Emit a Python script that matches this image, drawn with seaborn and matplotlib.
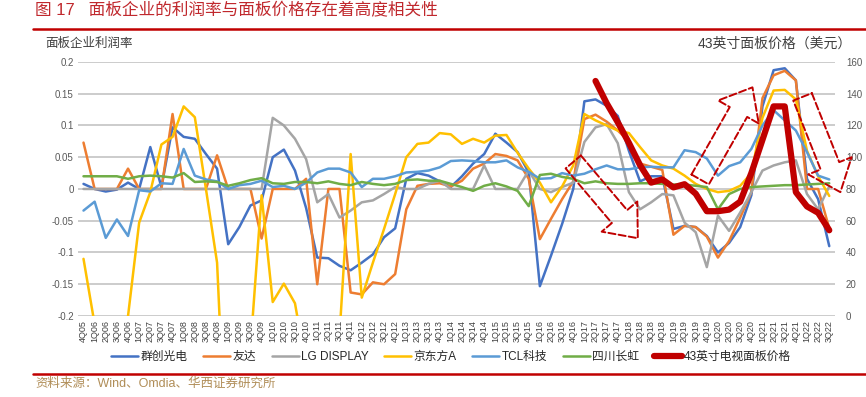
import numpy as np
import pandas as pd
import seaborn as sns
import matplotlib.pyplot as plt
from matplotlib.lines import Line2D

quarters = ['4Q05',
            '1Q06', '2Q06', '3Q06', '4Q06', '1Q07', '2Q07', '3Q07', '4Q07',
            '1Q08', '2Q08', '3Q08', '4Q08', '1Q09', '2Q09', '3Q09', '4Q09',
            '1Q10', '2Q10', '3Q10', '4Q10', '1Q11', '2Q11', '3Q11', '4Q11',
            '1Q12', '2Q12', '3Q12', '4Q12', '1Q13', '2Q13', '3Q13', '4Q13',
            '1Q14', '2Q14', '3Q14', '4Q14', '1Q15', '2Q15', '3Q15', '4Q15',
            '1Q16', '2Q16', '3Q16', '4Q16', '1Q17', '2Q17', '3Q17', '4Q17',
            '1Q18', '2Q18', '3Q18', '4Q18', '1Q19', '2Q19', '3Q19', '4Q19',
            '1Q20', '2Q20', '3Q20', '4Q20', '1Q21', '2Q21', '3Q21', '4Q21',
            '1Q22', '2Q22', '3Q22']

innolux = [0.008, 0.0, -0.004, -0.001, 0.01, 0.0, 0.066, 0.003, 0.097, 0.082,
           0.079, 0.055, 0.032, -0.087, -0.06, -0.026, -0.018, 0.05, 0.062, 0.029,
           -0.03, -0.108, -0.109, -0.121, -0.128, -0.116, -0.103, -0.076, -0.062, 0.016,
           0.025, 0.021, 0.012, 0.003, 0.02, 0.04, 0.055, 0.087, 0.073, 0.058,
           0.026, -0.153, -0.105, -0.055, 0.0, 0.138, 0.141, 0.131, 0.115, 0.06,
           0.012, 0.02, 0.02, -0.063, -0.058, -0.06, -0.074, -0.1, -0.085, -0.06,
           -0.01, 0.13, 0.187, 0.19, 0.171, 0.016, -0.016, -0.09]

auo = [0.073, 0.0, 0.0, 0.0, 0.032, 0.0, 0.0, 0.0, 0.118, 0.0,
       0.0, 0.0, 0.053, 0.0, 0.0, 0.0, -0.078, 0.0, 0.0, 0.0,
       0.016, -0.15, 0.0, 0.0, -0.163, -0.166, -0.147, -0.15, -0.134, -0.032,
       0.005, 0.008, 0.009, 0.004, 0.013, 0.032, 0.04, 0.055, 0.052, 0.045,
       0.016, -0.079, -0.047, -0.016, 0.012, 0.11, 0.117, 0.106, 0.092, 0.075,
       0.04, 0.035, 0.03, -0.072, -0.058, -0.06, -0.075, -0.108, -0.082, -0.045,
       -0.005, 0.143, 0.179, 0.186, 0.171, 0.0, 0.0, -0.062]

lgd = [0.0, 0.0, 0.0, 0.0, 0.0, 0.0, 0.0, 0.0, 0.0, 0.0,
       0.0, 0.0, 0.0, 0.0, 0.0, 0.0, 0.0, 0.112, 0.1, 0.079,
       0.047, -0.021, -0.008, -0.045, -0.034, -0.021, -0.018, -0.008, 0.003, 0.0,
       0.0, 0.008, 0.013, 0.0, 0.0, 0.0, 0.037, 0.0, 0.0, 0.0,
       0.029, 0.0, -0.005, 0.003, 0.01, 0.074, 0.097, 0.102, 0.072, -0.005,
       -0.032, -0.021, -0.008, -0.01, -0.053, -0.068, -0.123, -0.042, -0.066, -0.037,
       -0.005, 0.029, 0.037, 0.042, 0.045, -0.008, -0.032, 0.004]

boe = [-0.11, -0.213, -0.4, -0.4, -0.2, -0.053, -0.005, 0.07, 0.082, 0.13,
       0.113, 0.0, -0.116, -0.5, -0.5, -0.25, -0.01, -0.178, -0.149, -0.18,
       -0.28, -0.5, -0.5, -0.23, 0.055, -0.171, -0.116, -0.063, -0.008, 0.05,
       0.071, 0.073, 0.088, 0.086, 0.071, 0.079, 0.073, 0.084, 0.085, 0.057,
       0.032, 0.01, -0.021, 0.004, 0.037, 0.118, 0.108, 0.1, 0.092, 0.088,
       0.066, 0.045, 0.037, 0.032, 0.021, 0.008, 0.0, -0.005, -0.003, 0.005,
       0.025, 0.112, 0.155, 0.156, 0.141, 0.06, 0.02, -0.011]

tcl = [-0.034, -0.02, -0.077, -0.048, -0.074, -0.002, -0.004, 0.009, 0.008, 0.063,
       0.021, 0.015, 0.012, 0.0, 0.006, 0.008, 0.013, 0.003, 0.005, 0.0,
       0.01, 0.026, 0.032, 0.032, 0.026, 0.003, 0.016, 0.016, 0.02, 0.026,
       0.027, 0.029, 0.034, 0.044, 0.045, 0.044, 0.042, 0.042, 0.045, 0.034,
       0.027, 0.016, 0.017, 0.025, 0.021, 0.024, 0.031, 0.037, 0.031, 0.031,
       0.034, 0.035, 0.034, 0.034, 0.061, 0.058, 0.048, 0.021, 0.036, 0.042,
       0.063, 0.1, 0.124, 0.108, 0.092, 0.058, 0.021, 0.015]

changhong = [0.02, 0.02, 0.02, 0.02, 0.016, 0.02, 0.021, 0.02, 0.018, 0.025,
             0.011, 0.012, 0.011, 0.005, 0.009, 0.014, 0.017, 0.009, 0.008, 0.011,
             0.011, 0.009, 0.012, 0.008, 0.006, 0.011, 0.008, 0.006, 0.008, 0.014,
             0.015, 0.013, 0.013, 0.008, 0.003, -0.003, 0.005, 0.009, 0.004, -0.003,
             -0.027, 0.022, 0.024, 0.019, 0.016, 0.009, 0.012, 0.009, 0.008, 0.008,
             0.009, 0.009, 0.008, 0.007, 0.007, 0.005, 0.003, -0.032, -0.008, 0.0,
             0.003, 0.004, 0.005, 0.006, 0.006, 0.007, 0.008, 0.009]

# 43" TV panel price, starts 2Q17
price = [np.nan] * 46 + [148, 134, 122, 109, 95, 84, 86, 81, 83, 77,
                         66, 66, 67, 72, 90, 111, 132, 132, 78, 69,
                         65, 54]

names = ['群创光电', '友达', 'LG DISPLAY', '京东方A', 'TCL科技', '四川长虹']
colors = ['#4472C4', '#ED7D31', '#A5A5A5', '#FFC000', '#5B9BD5', '#70AD47']

idx = np.arange(len(quarters))
df = pd.DataFrame({'i': idx, '群创光电': innolux, '友达': auo, 'LG DISPLAY': lgd,
                   '京东方A': boe, 'TCL科技': tcl, '四川长虹': changhong,
                   'price': price})

sns.set_style('white')
plt.rcParams['font.family'] = ['Liberation Sans', 'Noto Sans CJK SC', 'DejaVu Sans']

fig = plt.figure(figsize=(8.66, 3.97), dpi=100)
ax = fig.add_axes([0.090, 0.204, 0.874, 0.640])

for name, c in zip(names, colors):
    sns.lineplot(data=df, x='i', y=name, ax=ax, color=c, lw=1.8, label=name, legend=False)

ax.set_xlim(-0.5, 67.5)
ax.set_ylim(-0.2, 0.2)
yt = [-0.2, -0.15, -0.1, -0.05, 0, 0.05, 0.1, 0.15, 0.2]
ax.set_yticks(yt)
ax.set_yticklabels(['-0.2', '-0.15', '-0.1', '-0.05', '0', '0.05', '0.1', '0.15', '0.2'],
                   fontsize=7, color='#595959')
ax.set_xticks(idx)
ax.set_xticklabels(quarters, rotation=90, fontsize=6.5, color='#404040')
ax.set_xlabel('')
ax.set_ylabel('')
ax.yaxis.grid(True, color='#C4C4C4', lw=1.2)
ax.xaxis.grid(False)
ax.set_axisbelow(True)
for s in ax.spines.values():
    s.set_visible(False)
ax.tick_params(length=0, pad=3)

ax2 = ax.twinx()
sns.lineplot(data=df, x='i', y='price', ax=ax2, color='#C00000', lw=4.5,
             label='43英寸电视面板价格', legend=False)
ax2.set_ylim(0, 160)
ax2.set_yticks(range(0, 161, 20))
ax2.set_yticklabels([str(v) for v in range(0, 161, 20)], fontsize=7, color='#595959')
ax2.set_ylabel('')
ax2.grid(False)
for s in ax2.spines.values():
    s.set_visible(False)
ax2.tick_params(length=0, pad=8)

# dashed hollow arrows
arrow_style = 'simple,head_length=1.7,head_width=2.8,tail_width=1.2'
for tail, tip in [((44.0, 97), (49.8, 49)), ((55.4, 86), (60.1, 144)), ((64.6, 138), (68.0, 78))]:
    ax2.annotate('', xy=tip, xytext=tail, annotation_clip=False,
                 arrowprops=dict(arrowstyle=arrow_style, fc='none', ec='#C00000',
                                 ls='--', lw=1.4, mutation_scale=12,
                                 shrinkA=0, shrinkB=0))

h1, l1 = ax.get_legend_handles_labels()
h2, l2 = ax2.get_legend_handles_labels()
fig.legend(h1 + h2, l1 + l2, loc='center', bbox_to_anchor=(0.521, 0.101), ncol=7,
           frameon=False, fontsize=8.5, handlelength=2.3, handletextpad=0.2,
           columnspacing=1.3)

fig.add_artist(Line2D([33 / 866, 1], [1 - 29 / 397] * 2, color='#C00000', lw=1.8))
fig.add_artist(Line2D([33 / 866, 1], [1 - 374 / 397] * 2, color='#C00000', lw=1.8))

fig.text(35 / 866, 1 - 10 / 397, '图 17   面板企业的利润率与面板价格存在着高度相关性',
         color='#C0282D', fontsize=12, va='center')
fig.text(45 / 866, 1 - 44 / 397, '面板企业利润率', color='#404040', fontsize=9, va='center')
fig.text(852 / 866, 1 - 44 / 397, '43英寸面板价格（美元）', color='#404040', fontsize=10,
         va='center', ha='right')
fig.text(35 / 866, 1 - 384 / 397, '资料来源：Wind、Omdia、华西证券研究所',
         color='#B08D57', fontsize=9, va='center')

fig.savefig('out.png', dpi=100)
